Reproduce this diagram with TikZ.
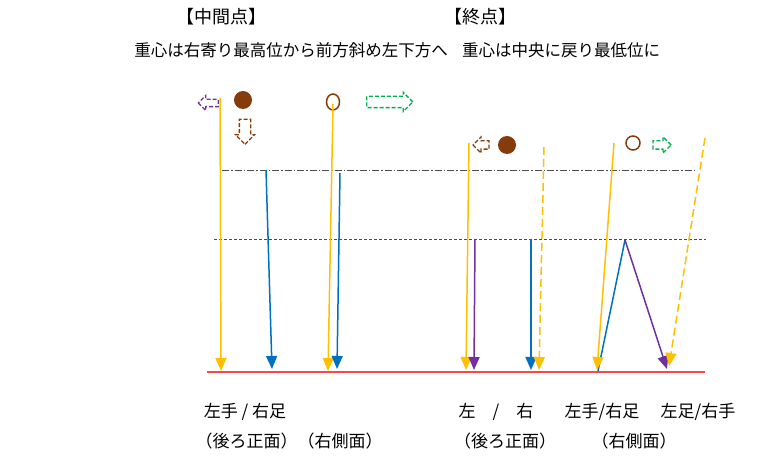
\documentclass[tikz,border=0pt]{standalone}
\usepackage{fontspec}
\setmainfont{Noto Sans CJK JP}
\usetikzlibrary{arrows.meta,shapes.arrows,shapes.geometric}
\definecolor{ylw}{RGB}{255,192,0}
\definecolor{blu}{RGB}{0,112,192}
\definecolor{ppl}{RGB}{112,48,160}
\definecolor{brn}{RGB}{132,60,12}
\definecolor{grn}{RGB}{0,176,80}
\definecolor{gnd}{RGB}{255,70,70}

\begin{document}
\begin{tikzpicture}[
   x=1pt, y=-1pt,
   every node/.append style={inner sep=0pt},
   leg/.style={line width=1.5pt, -{Triangle[length=13pt,width=11pt]}},
   yleg/.style={leg, draw=ylw},
   bleg/.style={leg, draw=blu, fill=blu},
   pleg/.style={leg, draw=ppl},
   dleg/.style={leg, draw=ylw, dash pattern=on 8pt off 4pt},
   move/.style={single arrow, draw, line width=1.3pt, dash pattern=on 4pt off 2pt,
                inner sep=4pt, single arrow head extend=4pt, minimum width=16pt}
]
\tikzset{every node/.append style={font=\fontsize{16.5}{20}\selectfont}}
\useasboundingbox (0,0) rectangle (780,462);

% titles
\node (tmid) at (221,17) {\fontsize{18}{20}\selectfont 【中間点】};
\node (tend) at (480,17) {\fontsize{18}{20}\selectfont 【終点】};
\node (smid) at (291,50) {重心は右寄り最高位から前方斜め左下方へ};
\node (send) at (561,50) {重心は中央に戻り最低位に};

% ground and levels
\coordinate (g0) at (207,372); \coordinate (g1) at (705,372);
\coordinate (h0) at (222,170); \coordinate (h1) at (697,170);
\coordinate (m0) at (214,239); \coordinate (m1) at (706,239);
\draw[gnd, line width=1.2pt] (g0) -- (g1);
\draw[black!70, line width=0.8pt, dash pattern=on 7pt off 2pt on 1.5pt off 2pt] (h0) -- (h1);
\draw[black!70, line width=0.8pt, dash pattern=on 3pt off 2pt] (m0) -- (m1);

% centre of gravity, mid point
\node[circle, fill=brn, minimum size=18pt] (cg1) at (243,100) {};
\node[ellipse, draw=brn, line width=1.5pt, minimum width=13pt, minimum height=16pt] (cg2) at (333,102) {};
\node[move, draw=ppl, inner sep=3pt, minimum height=20pt, minimum width=13pt, shape border rotate=180] (mv1) at (210,103) {};
\node[move, draw=brn, inner sep=5pt, minimum height=25pt, shape border rotate=270] (mv2) at (245,129) {};
\node[move, draw=grn, inner sep=5pt, minimum height=46pt, minimum width=18pt] (mv3) at (387,102) {};

% centre of gravity, end point
\node[circle, fill=brn, minimum size=18pt] (cg3) at (507,145) {};
\node[circle, draw=brn, line width=1.5pt, minimum size=14pt] (cg4) at (633,143) {};
\node[move, draw=brn, inner sep=3.5pt, minimum height=16pt, minimum width=14pt, shape border rotate=180] (mv4) at (483,145) {};
\node[move, draw=grn, inner sep=3.5pt, minimum height=18pt, minimum width=15pt] (mv5) at (660,145) {};

% legs, mid point
\coordinate (a0) at (220,98);  \coordinate (a1) at (221,371);
\coordinate (b0) at (266,170); \coordinate (b1) at (272,369);
\coordinate (c0) at (333,104); \coordinate (c1) at (328,371);
\coordinate (d0) at (340,173); \coordinate (d1) at (337,369);
\draw[yleg] (a0) -- (a1);
\draw[bleg] (b0) -- (b1);
\draw[yleg] (c0) -- (c1);
\draw[bleg] (d0) -- (d1);

% legs, end point
\coordinate (e0) at (469,143); \coordinate (e1) at (466,370);
\coordinate (f0) at (475,239); \coordinate (f1) at (474,370);
\coordinate (k0) at (531,239); \coordinate (k1) at (531,370);
\coordinate (l0) at (544,147); \coordinate (l1) at (539,370);
\coordinate (n0) at (614,143); \coordinate (n1) at (597,370);
\coordinate (top) at (625,240);
\coordinate (p1) at (598,371); \coordinate (q1) at (667,369);
\coordinate (r0) at (705,138); \coordinate (r1) at (669,366);
\draw[yleg] (e0) -- (e1);
\draw[pleg] (f0) -- (f1);
\draw[bleg] (k0) -- (k1);
\draw[dleg] (l0) -- (l1);
\draw[blu, line width=1.5pt] (top) -- (p1);
\draw[yleg] (n0) -- (n1);
\draw[pleg] (top) -- (q1);
\draw[dleg] (r0) -- (r1);

% captions
\tikzset{every node/.append style={font=\fontsize{17}{20}\selectfont}}
\node (lab1) at (245,412) {左手 / 右足};
\node (lab2) at (289,441) {（後ろ正面）（右側面）};
\node (lab3) at (496,412) {左\quad{}/\quad{}右};
\node (lab4) at (602,412) {左手/右足};
\node (lab5) at (698,412) {左足/右手};
\node (lab6) at (505,441) {（後ろ正面）};
\node (lab7) at (634,441) {（右側面）};
\end{tikzpicture}
\end{document}
